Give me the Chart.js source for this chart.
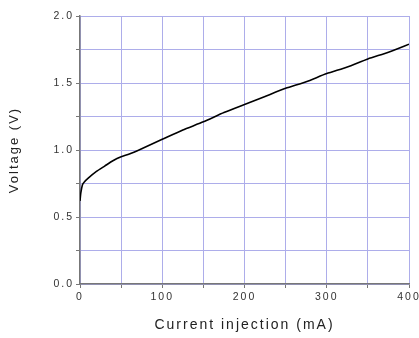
<!DOCTYPE html>
<html>
<head>
<meta charset="utf-8">
<script src="https://cdn.jsdelivr.net/npm/chart.js@4.4.1/dist/chart.umd.min.js"></script>
<style>
  html, body { margin: 0; padding: 0; background: #fff; overflow: hidden; }
  #wrap { width: 440px; height: 338px; }
</style>
</head>
<body>
<div id="wrap"><canvas id="myChart"></canvas></div>
<script>
// data
const current = [0, 1, 3, 5, 10, 20, 30, 40, 50, 60, 75, 100, 125, 150, 175, 200, 225, 250, 275, 300, 325, 350, 375, 400]
const voltage = [0.62, 0.68, 0.74, 0.76, 0.79, 0.84, 0.88, 0.92, 0.95, 0.97, 1.01, 1.08, 1.15, 1.21, 1.28, 1.34, 1.40, 1.46, 1.51, 1.57, 1.62, 1.68, 1.73, 1.79]
const xTicks = [0, 100, 200, 300, 400]
const yTicks = [0.0, 0.5, 1.0, 1.5, 2.0]

const gridColor = '#adadea'
const axisColor = '#777'
const fontFamily = 'Arial, "Liberation Sans", sans-serif'

const points = current.map((c, i) => ({x: c, y: voltage[i]}))

// the original text is drawn wide, so spread the letters a bit
const spacing = {
    id: 'spacing',
    beforeLayout(chart) { chart.ctx.letterSpacing = '2px' },
    beforeDraw(chart) { chart.ctx.letterSpacing = '2px' }
}

const config = {
    type: 'scatter',
    data: {
        datasets: [{
            label: 'Voltage',
            data: points,
            showLine: true,
            borderColor: '#000',
            borderWidth: 1.6,
            pointRadius: 0,
            tension: 0.2
        }]
    },
    options: {
        responsive: true,
        maintainAspectRatio: false,
        animation: false,
        layout: { padding: { left: 0, right: 31, top: 16, bottom: 4 } },
        plugins: { legend: { display: false }, tooltip: { enabled: false } },
        scales: {
            x: {
                type: 'linear',
                min: 0, max: 400,
                afterFit: s => { s.height = 50 },
                ticks: {
                    stepSize: 50,
                    color: '#333',
                    font: { family: fontFamily, size: 10.5 },
                    padding: 3,
                    maxRotation: 0,
                    callback: v => xTicks.includes(v) ? String(v) : ''
                },
                grid: { color: gridColor, tickColor: axisColor, tickLength: 4 },
                border: { color: axisColor, width: 1.5 },
                title: {
                    display: true,
                    text: 'Current injection (mA)',
                    color: '#222',
                    font: { family: fontFamily, size: 14 },
                    padding: { top: 3, bottom: 0 }
                }
            },
            y: {
                min: 0, max: 2,
                afterFit: s => { s.width = 80 },
                ticks: {
                    stepSize: 0.25,
                    color: '#333',
                    font: { family: fontFamily, size: 10.5 },
                    padding: 2,
                    callback: v => yTicks.some(t => Math.abs(t - v) < 1e-9) ? v.toFixed(1) : ''
                },
                grid: { color: gridColor, tickColor: axisColor, tickLength: 4 },
                border: { color: axisColor, width: 1.5 },
                title: {
                    display: true,
                    text: 'Voltage (V)',
                    color: '#222',
                    font: { family: fontFamily, size: 13 },
                    padding: { top: 7, bottom: 0 }
                }
            }
        }
    },
    plugins: [spacing]
}

const myChart = new Chart(document.getElementById('myChart'), config)
</script>
</body>
</html>
